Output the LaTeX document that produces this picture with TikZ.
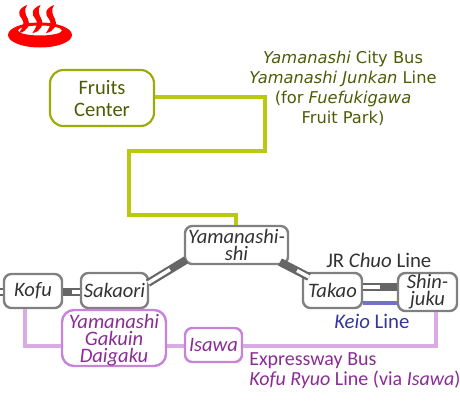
\documentclass[tikz,border=0pt]{standalone}
\usepackage{fontspec}
\setmainfont{Carlito}
\newfontfamily\topfont{DejaVu Sans}
\definecolor{grayline}{HTML}{666666}
\definecolor{grayedge}{HTML}{808080}
\definecolor{olive}{HTML}{9AAB0A}
\definecolor{oliveline}{HTML}{B9C90F}
\definecolor{olivetext}{HTML}{4F5B06}
\definecolor{pinkedge}{HTML}{C784D8}
\definecolor{pinkline}{HTML}{D9AAE3}
\definecolor{purpletext}{HTML}{8A2C96}
\definecolor{bluetext}{HTML}{35379A}
\definecolor{blueline}{HTML}{7272C8}
\definecolor{darktext}{HTML}{333333}
\tikzset{
  x=0.75pt,y=-0.75pt,
  stn/.style={draw=grayedge,line width=1.8pt,rounded corners=5.5pt,fill=white,inner sep=0pt,align=center,font=\fontsize{15.4}{12.8}\selectfont\itshape,text=darktext},
  busstn/.style={stn,draw=pinkedge,text=purpletext},
  fruit/.style={stn,draw=olive,line width=1.6pt,rounded corners=10pt,text=olivetext,font=\fontsize{15.4}{16.5}\selectfont},
  trk/.style={draw=grayline,line width=6pt},
  trkin/.style={draw=white,line width=2.6pt},
  busline/.style={draw=pinkline,line width=3.2pt},
  greenline/.style={draw=oliveline,line width=3.2pt},
  keioline/.style={draw=blueline,line width=3.2pt},
  lbl/.style={inner sep=0pt,align=center},
}
\begin{document}
\begin{tikzpicture}
\useasboundingbox (0,0) rectangle (460,400);
% onsen mark
\fill[red,even odd rule] (40,35) ellipse [x radius=32,y radius=12.5] (40,30.5) ellipse [x radius=22,y radius=5];
\foreach \dx in {0,13.5,27}{
 \fill[red] (27+\dx,5)
   .. controls (17+\dx,9) and (18+\dx,15) .. (22+\dx,19)
   .. controls (25+\dx,23) and (23+\dx,27) .. (19+\dx,33)
   .. controls (27+\dx,32) and (31+\dx,24) .. (28+\dx,19)
   .. controls (25+\dx,14) and (24+\dx,10) .. (27+\dx,5) -- cycle;
}
% stations
\node[stn,minimum width=58pt*0.75,minimum height=34pt*0.75] (kofu) at (33,291) {Kofu};
\node[stn,minimum width=67pt*0.75,minimum height=35pt*0.75] (sakaori) at (114.5,290.5) {Sakaori};
\node[stn,minimum width=103pt*0.75,minimum height=38pt*0.75,text depth=0pt] (yama) at (236.5,245) {Yamanashi-\\shi};
\node[stn,minimum width=59pt*0.75,minimum height=35pt*0.75] (takao) at (332.5,290.5) {Takao};
\node[stn,minimum width=59pt*0.75,minimum height=38pt*0.75] (shin) at (427.5,292) {Shin-\\juku};
\node[busstn,minimum width=104pt*0.75,minimum height=56pt*0.75,rounded corners=9pt,text depth=0pt] (gakuin) at (114,338) {Yamanashi\\Gakuin\\Daigaku};
\node[busstn,minimum width=57pt*0.75,minimum height=34pt*0.75] (isawa) at (213.5,345) {Isawa};
\node[fruit,minimum width=104pt*0.75,minimum height=56pt*0.75,text depth=0pt] (fruits) at (102,98) {Fruits\\Center};
% rail connectors
\coordinate (edgeL) at (0,292);
\coordinate (ks) at (72,292);
\coordinate (sy) at (170,269.5);
\coordinate (yt) at (297,270.5);
\coordinate (ts) at (380,287);
\path[trk] (edgeL) -- (kofu.west |- edgeL);
\path[trkin] (edgeL) -- (kofu.west |- edgeL);
\path[trk] (kofu.east |- edgeL) -- (sakaori.west |- edgeL);
\path[trkin] (ks) -- (sakaori.west |- edgeL);
\coordinate (sakE) at (148,283);
\coordinate (yamW) at (186,260);
\coordinate (yamE) at (280,262);
\coordinate (takW) at (309,277);
\path[trk] (sakE) -- (yamW);
\path[trkin] (sakE) -- (sy);
\path[trk] (yamE) -- (takW);
\path[trkin] (yt) -- (takW);
\path[trk] (takao.east |- ts) -- (shin.west |- ts);
\path[trkin] (takao.east |- ts) -- (ts);
\path[keioline] (takao.east |- 0,303) -- (shin.west |- 0,303);
% bus lines
\path[busline] (kofu.south -| 25,0) -- (25,346) -- (gakuin.west |- 0,346);
\path[busline] (gakuin.east |- 0,346) -- (isawa.west |- 0,346);
\path[busline] (isawa.east |- 0,346) -- (436,346) -- (shin.south -| 436,0);
% green line
\path[greenline] (fruits.east |- 0,97) -- (265,97) -- (265,151) -- (129,151) -- (129,215) -- (236,215) -- (yama.north -| 236,0);
% labels
\node[lbl,text=olivetext,font=\topfont\fontsize{12.2}{15}\selectfont] at (343,88)
 {\textit{Yamanashi} City Bus\\\textit{Yamanashi Junkan} Line\\(for \textit{Fuefukigawa}\\Fruit Park)};
\node[lbl,text=darktext,font=\fontsize{15.6}{16}\selectfont,anchor=west] at (326,260) {JR \textit{Chuo} Line};
\node[lbl,text=bluetext,font=\fontsize{15.6}{16}\selectfont,anchor=west] at (334,321) {\textit{Keio} Line};
\node[lbl,text=purpletext,font=\fontsize{15}{15}\selectfont,anchor=north west,align=left] at (249,352) {Expressway Bus\\\textit{Kofu Ryuo} Line (via \textit{Isawa})};
\end{tikzpicture}
\end{document}
